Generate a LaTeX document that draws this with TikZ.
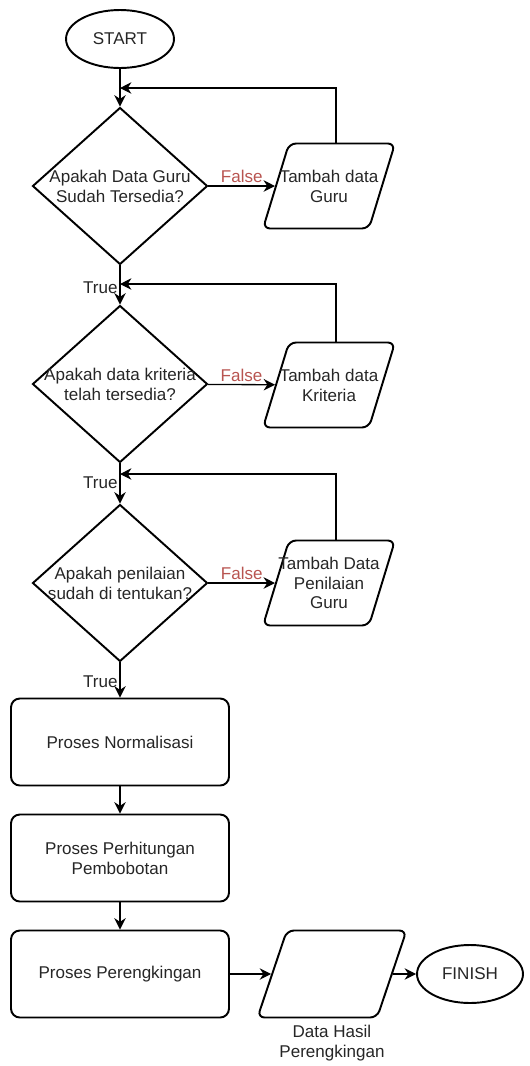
\documentclass[tikz,border=0pt]{standalone}
\usepackage{fontspec}
\setmainfont{Liberation Sans}
\usepackage{xcolor}
\usepackage{tikz}
\usetikzlibrary{positioning}
\usetikzlibrary{arrows.meta,shapes.geometric}
\definecolor{falsered}{RGB}{184,84,80}
\tikzstyle{terminal}=[ellipse,draw,line width=1.1pt,minimum width=2.16cm,minimum height=1.16cm,inner sep=0pt]
\tikzstyle{decision}=[diamond,draw,line width=1.1pt,minimum width=3.5cm,minimum height=3.14cm,inner sep=1pt]
\tikzstyle{datain}=[trapezium,trapezium left angle=72,trapezium right angle=108,trapezium stretches=true,draw,line width=1.1pt,rounded corners=4pt,minimum width=2.64cm,minimum height=1.7cm,inner sep=2pt]
\tikzstyle{process}=[rectangle,draw,line width=1.1pt,rounded corners=5pt,minimum width=4.36cm,minimum height=1.74cm,align=center]
\tikzstyle{flow} = [draw,line width=0.75pt,-{Stealth[length=6.5pt,width=6.5pt]}]
\tikzstyle{back} = [draw,line width=0.6pt,-{Stealth[length=6.5pt,width=6.5pt]}]
\tikzstyle{answer} = [left,inner sep=1pt]

\begin{document}
\begin{tikzpicture}[x=0.02cm, y=-0.02cm, font=\fontsize{9.7}{11.3}\selectfont,
  every node/.style={text=black!85}, every label/.style={align=center,text=black!85}]

 \useasboundingbox (0,0) rectangle (529,1066);

 %Terminal
 \node[terminal] (start) at (120,39) {START};
 \node[terminal, minimum width=2.12cm] (finish) at (470,974) {FINISH};

 %Decision
 \foreach \y/\name/\label in {186/cek1/{Apakah Data Guru\\Sudah Tersedia?}, 384/cek2/{Apakah data kriteria\\telah tersedia?}, 583/cek3/{Apakah penilaian\\sudah di tentukan?}}
          \node[decision, label={center:\label}] (\name) at (120,\y) {};

 %Input data
 \foreach \y/\name/\label in {186/tambah1/{Tambah data\\Guru}, 385/tambah2/{Tambah data\\Kriteria}, 583/tambah3/{Tambah Data\\Penilaian\\Guru}}
          \node[datain, label={center:\label}] (\name) at (329,\y) {};

 \node[datain, minimum width=2.98cm, minimum height=1.74cm,
       label={[label distance=0.5pt]below:Data Hasil\\Perengkingan}] (hasil) at (332,974) {};

 %Process
 \foreach \y/\name/\label in {742/proses1/{Proses Normalisasi}, 858/proses2/{Proses Perhitungan\\Pembobotan}, 974/proses3/{Proses Perengkingan}}
          \node[process] (\name) at (120,\y) {\label};

 %Merge points
 \foreach \y/\name in {88/m1, 284/m2, 474/m3}
          \coordinate (\name) at (120,\y);

 %Main flow
 \draw[line width=0.75pt] (start) -- (m1);
 \draw[line width=0.75pt] (cek1) -- (m2) node[answer, yshift=-0.07cm] {True};
 \draw[line width=0.75pt] (cek2) -- (m3) node[answer, yshift=-0.18cm] {True};

 \foreach \source/ \dest in {m1/cek1, m2/cek2, m3/cek3, proses1/proses2, proses2/proses3, proses3/hasil, hasil/finish}
         \path[flow] (\source) -- (\dest);

 \path[flow] (cek3) -- node[answer, pos=0.55] {True} (proses1);

 %False branch
 \foreach \source/ \dest in {cek1/tambah1, cek2/tambah2, cek3/tambah3}
         \path[flow] (\source) -- node[above, inner sep=1.5pt, text=falsered] {False} (\dest);

 %Back to check
 \foreach \source/ \dest in {tambah1/m1, tambah2/m2, tambah3/m3}
         \path[back] ([xshift=0.14cm]\source.north) |- (\dest);

\end{tikzpicture}
\end{document}
